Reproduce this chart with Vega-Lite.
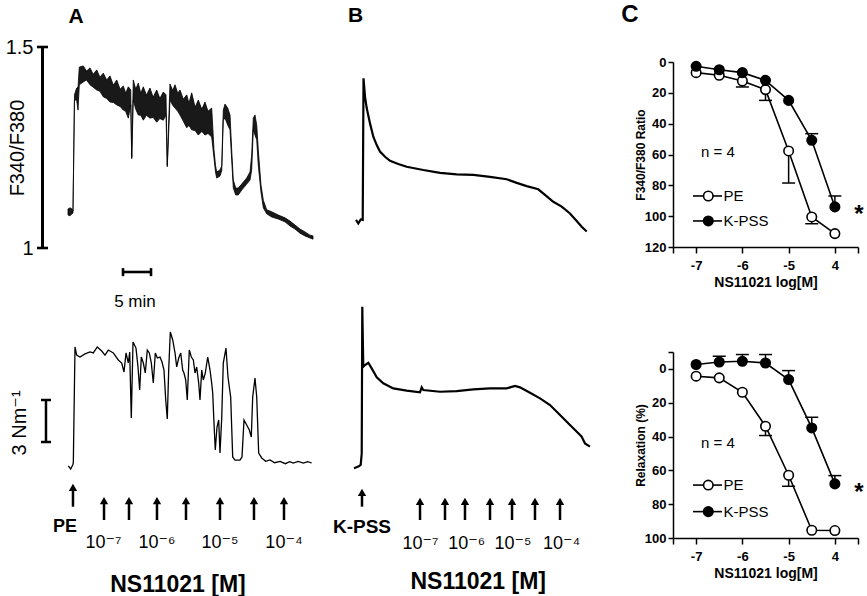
{
"$schema":"https://vega.github.io/schema/vega-lite/v6.json",
"width":867,"height":596,"autosize":{"type":"none"},"padding":0,"background":"white",
"config":{"view":{"stroke":null},"axis":{"grid":false,"domainColor":"black","tickColor":"black","labelColor":"black","titleColor":"black","labelFont":"Liberation Sans","titleFont":"Liberation Sans","labelOverlap":false,"labelFlush":false},"text":{"font":"Liberation Sans, DejaVu Sans, sans-serif","color":"black"}},
"layer":[
 {"data":{"values":[
{"t":0,"lo":1.082,"hi":1.097},{"t":0.36,"lo":1.080,"hi":1.100},{"t":0.71,"lo":1.085,"hi":1.097},{"t":0.89,"lo":1.087,"hi":1.092},{"t":1.16,"lo":1.368,"hi":1.381},{"t":1.55,"lo":1.368,"hi":1.398},{"t":1.79,"lo":1.343,"hi":1.400},{"t":2.02,"lo":1.406,"hi":1.450},{"t":2.73,"lo":1.413,"hi":1.453},{"t":3.3,"lo":1.418,"hi":1.440},{"t":3.93,"lo":1.406,"hi":1.448},{"t":4.5,"lo":1.400,"hi":1.432},{"t":5.13,"lo":1.393,"hi":1.443},{"t":5.7,"lo":1.390,"hi":1.425},{"t":6.30,"lo":1.376,"hi":1.435},{"t":6.9,"lo":1.372,"hi":1.418},{"t":7.50,"lo":1.363,"hi":1.428},{"t":8.1,"lo":1.362,"hi":1.405},{"t":8.70,"lo":1.356,"hi":1.418},{"t":9.3,"lo":1.352,"hi":1.395},{"t":9.88,"lo":1.343,"hi":1.403},{"t":10.3,"lo":1.340,"hi":1.385},{"t":10.77,"lo":1.323,"hi":1.401},{"t":11.20,"lo":1.356,"hi":1.393},{"t":11.38,"lo":1.222,"hi":1.226},{"t":11.66,"lo":1.368,"hi":1.418},{"t":12.1,"lo":1.345,"hi":1.395},{"t":12.55,"lo":1.331,"hi":1.410},{"t":13.0,"lo":1.330,"hi":1.385},{"t":13.45,"lo":1.318,"hi":1.401},{"t":14.0,"lo":1.330,"hi":1.380},{"t":14.64,"lo":1.323,"hi":1.398},{"t":15.2,"lo":1.325,"hi":1.375},{"t":15.84,"lo":1.313,"hi":1.393},{"t":16.4,"lo":1.322,"hi":1.372},{"t":17.02,"lo":1.318,"hi":1.388},{"t":17.50,"lo":1.331,"hi":1.381},{"t":17.73,"lo":1.202,"hi":1.206},{"t":18.21,"lo":1.368,"hi":1.408},{"t":18.7,"lo":1.355,"hi":1.392},{"t":19.11,"lo":1.348,"hi":1.406},{"t":19.6,"lo":1.340,"hi":1.385},{"t":20.0,"lo":1.331,"hi":1.393},{"t":20.6,"lo":1.315,"hi":1.370},{"t":21.20,"lo":1.299,"hi":1.381},{"t":21.6,"lo":1.305,"hi":1.360},{"t":22.09,"lo":1.294,"hi":1.386},{"t":22.7,"lo":1.292,"hi":1.350},{"t":23.27,"lo":1.281,"hi":1.368},{"t":23.9,"lo":1.290,"hi":1.345},{"t":24.46,"lo":1.281,"hi":1.363},{"t":25.0,"lo":1.285,"hi":1.340},{"t":25.66,"lo":1.276,"hi":1.348},{"t":26.07,"lo":1.224,"hi":1.244},{"t":26.34,"lo":1.189,"hi":1.206},{"t":26.55,"lo":1.174,"hi":1.189},{"t":27.14,"lo":1.179,"hi":1.194},{"t":27.45,"lo":1.192,"hi":1.204},{"t":27.73,"lo":1.318,"hi":1.343},{"t":28.04,"lo":1.323,"hi":1.358},{"t":28.52,"lo":1.306,"hi":1.348},{"t":28.93,"lo":1.294,"hi":1.331},{"t":29.23,"lo":1.219,"hi":1.244},{"t":29.52,"lo":1.149,"hi":1.169},{"t":29.95,"lo":1.132,"hi":1.149},{"t":30.41,"lo":1.132,"hi":1.149},{"t":31.02,"lo":1.144,"hi":1.159},{"t":31.91,"lo":1.159,"hi":1.174},{"t":32.50,"lo":1.169,"hi":1.189},{"t":32.80,"lo":1.194,"hi":1.231},{"t":33.09,"lo":1.294,"hi":1.323},{"t":33.39,"lo":1.281,"hi":1.331},{"t":33.70,"lo":1.269,"hi":1.306},{"t":33.98,"lo":1.206,"hi":1.244},{"t":34.46,"lo":1.139,"hi":1.157},{"t":34.88,"lo":1.100,"hi":1.119},{"t":35.48,"lo":1.085,"hi":1.095},{"t":36.38,"lo":1.077,"hi":1.090},{"t":37.55,"lo":1.072,"hi":1.082},{"t":38.75,"lo":1.065,"hi":1.075},{"t":39.64,"lo":1.055,"hi":1.067},{"t":40.54,"lo":1.047,"hi":1.057},{"t":41.43,"lo":1.037,"hi":1.047},{"t":42.32,"lo":1.030,"hi":1.040},{"t":43.21,"lo":1.025,"hi":1.032},{"t":43.75,"lo":1.022,"hi":1.030}
 ]},
  "mark":{"type":"area","color":"black","fillOpacity":0.9,"stroke":"black","strokeWidth":0.8},
  "encoding":{
   "x":{"field":"t","type":"quantitative","scale":{"domain":[0,43.75],"range":[68,313],"zero":false,"nice":false},"axis":null},
   "y":{"field":"hi","type":"quantitative","scale":{"domain":[1,1.5],"range":[248,47],"zero":false,"nice":false},
        "axis":{"orient":"left","offset":-42,"values":[1,1.5],"labelExpr":"datum.value == 1 ? '1' : '1.5'","ticks":false,"labelPadding":9,"labelFontSize":20,"domainWidth":3,"title":"F340/F380","titleFontSize":20,"titleFontWeight":"normal","titleX":-25,"titleY":147.5,"titleAngle":-90,"titleAlign":"center","titleBaseline":"middle"}},
   "y2":{"field":"lo"}}},
 {"data":{"values":[
{"t":-5.54,"t2":-3.57,"F":1.5,"F2":1.5},{"t":-5.54,"t2":-3.57,"F":1,"F2":1},{"t":9.82,"t2":14.82,"F":0.9403,"F2":0.9403},{"t":9.82,"t2":9.82,"F":0.950,"F2":0.930},{"t":14.82,"t2":14.82,"F":0.950,"F2":0.930}
 ]},
  "mark":{"type":"rule","color":"black","strokeWidth":2.6},
  "encoding":{
   "x":{"field":"t","type":"quantitative","scale":{"domain":[0,43.75],"range":[68,313],"zero":false,"nice":false},"axis":null},
   "x2":{"field":"t2"},
   "y":{"field":"F","type":"quantitative","scale":{"domain":[1,1.5],"range":[248,47],"zero":false,"nice":false},"axis":null},
   "y2":{"field":"F2"}}},
 {"data":{"values":[{"t":1.43,"F":1.559,"label":"A"}]},
  "mark":{"type":"text","fontSize":21,"fontWeight":"bold","align":"center","baseline":"alphabetic"},
  "encoding":{
   "x":{"field":"t","type":"quantitative","scale":{"domain":[0,43.75],"range":[68,313],"zero":false,"nice":false},"axis":null},
   "y":{"field":"F","type":"quantitative","scale":{"domain":[1,1.5],"range":[248,47],"zero":false,"nice":false},"axis":null},
   "text":{"field":"label"}}},
 {"data":{"values":[{"t":11.96,"F":0.854,"label":"5 min"}]},
  "mark":{"type":"text","fontSize":17,"align":"center","baseline":"alphabetic"},
  "encoding":{
   "x":{"field":"t","type":"quantitative","scale":{"domain":[0,43.75],"range":[68,313],"zero":false,"nice":false},"axis":null},
   "y":{"field":"F","type":"quantitative","scale":{"domain":[1,1.5],"range":[248,47],"zero":false,"nice":false},"axis":null},
   "text":{"field":"label"}}},
 {"data":{"values":[
{"t":0.05,"v":0.29},{"t":0.48,"v":0.07},{"t":0.84,"v":0.36},{"t":0.95,"v":0.5},{"t":1.25,"v":8.79},{"t":1.55,"v":8.21},{"t":2.14,"v":8.07},{"t":3.04,"v":8.29},{"t":3.93,"v":8.43},{"t":4.52,"v":8.36},{"t":5.23,"v":8.79},{"t":6.02,"v":8.5},{"t":6.61,"v":8.21},{"t":7.20,"v":8.57},{"t":8.09,"v":8.36},{"t":8.98,"v":7.86},{"t":9.59,"v":7.64},{"t":10.0,"v":7.0},{"t":10.36,"v":8.36},{"t":10.77,"v":7.64},{"t":11.02,"v":8.43},{"t":11.30,"v":3.71},{"t":11.61,"v":9.14},{"t":12.14,"v":8.71},{"t":12.5,"v":7.36},{"t":12.80,"v":5.71},{"t":13.09,"v":8.07},{"t":13.45,"v":7.64},{"t":13.80,"v":6.93},{"t":14.16,"v":8.57},{"t":14.52,"v":8.36},{"t":14.88,"v":7.64},{"t":15.23,"v":6.21},{"t":15.59,"v":8.36},{"t":15.95,"v":8.0},{"t":16.43,"v":8.07},{"t":16.79,"v":7.71},{"t":17.14,"v":7.14},{"t":17.45,"v":5.0},{"t":17.73,"v":3.64},{"t":17.98,"v":7.14},{"t":18.27,"v":9.86},{"t":18.70,"v":9.29},{"t":19.11,"v":8.36},{"t":19.41,"v":7.36},{"t":19.77,"v":8.0},{"t":20.13,"v":8.36},{"t":20.48,"v":7.14},{"t":20.71,"v":6.93},{"t":21.02,"v":6.43},{"t":21.30,"v":5.0},{"t":21.66,"v":8.57},{"t":22.02,"v":8.07},{"t":22.38,"v":7.86},{"t":22.68,"v":6.93},{"t":22.98,"v":7.36},{"t":23.34,"v":6.21},{"t":23.57,"v":5.0},{"t":23.88,"v":7.14},{"t":24.16,"v":6.43},{"t":24.52,"v":6.93},{"t":24.95,"v":8.07},{"t":25.36,"v":7.14},{"t":25.66,"v":6.21},{"t":25.84,"v":5.5},{"t":26.07,"v":3.36},{"t":26.30,"v":1.43},{"t":26.61,"v":3.07},{"t":26.91,"v":3.57},{"t":27.14,"v":1.21},{"t":27.45,"v":3.71},{"t":27.73,"v":7.64},{"t":28.21,"v":8.71},{"t":28.57,"v":6.64},{"t":29.05,"v":5.21},{"t":29.41,"v":0.93},{"t":29.82,"v":0.71},{"t":30.71,"v":0.71},{"t":31.07,"v":0.93},{"t":31.43,"v":3.57},{"t":31.91,"v":3.21},{"t":32.38,"v":2.86},{"t":32.73,"v":2.36},{"t":32.98,"v":5.21},{"t":33.39,"v":6.57},{"t":33.70,"v":5.21},{"t":34.05,"v":1.21},{"t":34.59,"v":0.86},{"t":35.3,"v":0.62},{"t":36.07,"v":0.72},{"t":36.9,"v":0.52},{"t":37.86,"v":0.62},{"t":38.8,"v":0.45},{"t":39.6,"v":0.6},{"t":40.23,"v":0.5},{"t":41.1,"v":0.62},{"t":42.02,"v":0.5},{"t":42.8,"v":0.6},{"t":43.52,"v":0.5}
 ]},
  "mark":{"type":"line","color":"black","strokeWidth":1.3},
  "encoding":{
   "x":{"field":"t","type":"quantitative","scale":{"domain":[0,43.75],"range":[68,313],"zero":false,"nice":false},"axis":null},
   "y":{"field":"v","type":"quantitative","scale":{"domain":[0,10],"range":[470,330],"zero":false,"nice":false},"axis":null}}},
 {"data":{"values":[
{"t":-3.93,"t2":-3.93,"v":2,"v2":5},{"t":-4.82,"t2":-3.04,"v":2,"v2":2},{"t":-4.82,"t2":-3.04,"v":5,"v2":5},
{"t":0.89,"t2":0.89,"v":-2.62,"v2":-1.3},
{"t":6.43,"t2":6.43,"v":-3.571,"v2":-2.25},{"t":10.89,"t2":10.89,"v":-3.571,"v2":-2.25},{"t":15.89,"t2":15.89,"v":-3.571,"v2":-2.25},{"t":21.07,"t2":21.07,"v":-3.571,"v2":-2.25},{"t":27.14,"t2":27.14,"v":-3.571,"v2":-2.25},{"t":33.21,"t2":33.21,"v":-3.571,"v2":-2.25},{"t":38.57,"t2":38.57,"v":-3.571,"v2":-2.25}
 ]},
  "mark":{"type":"rule","color":"black","strokeWidth":2.5},
  "encoding":{
   "x":{"field":"t","type":"quantitative","scale":{"domain":[0,43.75],"range":[68,313],"zero":false,"nice":false},"axis":null},
   "x2":{"field":"t2"},
   "y":{"field":"v","type":"quantitative","scale":{"domain":[0,10],"range":[470,330],"zero":false,"nice":false},"axis":null},
   "y2":{"field":"v2"}}},
 {"data":{"values":[
{"t":0.89,"v":-1.236},{"t":6.43,"v":-2.19},{"t":10.89,"v":-2.19},{"t":15.89,"v":-2.19},{"t":21.07,"v":-2.19},{"t":27.14,"v":-2.19},{"t":33.21,"v":-2.19},{"t":38.57,"v":-2.19}
 ]},
  "mark":{"type":"point","shape":"triangle-up","filled":true,"color":"black","size":70,"opacity":1},
  "encoding":{
   "x":{"field":"t","type":"quantitative","scale":{"domain":[0,43.75],"range":[68,313],"zero":false,"nice":false},"axis":null},
   "y":{"field":"v","type":"quantitative","scale":{"domain":[0,10],"range":[470,330],"zero":false,"nice":false},"axis":null}}},
 {"data":{"values":[{"t":-0.54,"v":-4.41,"label":"PE"}]},
  "mark":{"type":"text","fontSize":18,"fontWeight":"bold","align":"center","baseline":"alphabetic"},
  "encoding":{
   "x":{"field":"t","type":"quantitative","scale":{"domain":[0,43.75],"range":[68,313],"zero":false,"nice":false},"axis":null},
   "y":{"field":"v","type":"quantitative","scale":{"domain":[0,10],"range":[470,330],"zero":false,"nice":false},"axis":null},
   "text":{"field":"label"}}},
 {"data":{"values":[{"t":6.34,"v":-5.59,"label":"10⁻⁷"},{"t":15.89,"v":-5.59,"label":"10⁻⁶"},{"t":27.14,"v":-5.59,"label":"10⁻⁵"},{"t":38.57,"v":-5.59,"label":"10⁻⁴"}]},
  "mark":{"type":"text","fontSize":18,"align":"center","baseline":"alphabetic"},
  "encoding":{
   "x":{"field":"t","type":"quantitative","scale":{"domain":[0,43.75],"range":[68,313],"zero":false,"nice":false},"axis":null},
   "y":{"field":"v","type":"quantitative","scale":{"domain":[0,10],"range":[470,330],"zero":false,"nice":false},"axis":null},
   "text":{"field":"label"}}},
 {"data":{"values":[{"t":19.64,"v":-8.69,"label":"NS11021 [M]"}]},
  "mark":{"type":"text","fontSize":23,"fontWeight":"bold","align":"center","baseline":"alphabetic"},
  "encoding":{
   "x":{"field":"t","type":"quantitative","scale":{"domain":[0,43.75],"range":[68,313],"zero":false,"nice":false},"axis":null},
   "y":{"field":"v","type":"quantitative","scale":{"domain":[0,10],"range":[470,330],"zero":false,"nice":false},"axis":null},
   "text":{"field":"label"}}},
 {"data":{"values":[{"t":-8.57,"v":3.36,"label":"3 Nm⁻¹"}]},
  "mark":{"type":"text","fontSize":20,"angle":270,"align":"center","baseline":"middle"},
  "encoding":{
   "x":{"field":"t","type":"quantitative","scale":{"domain":[0,43.75],"range":[68,313],"zero":false,"nice":false},"axis":null},
   "y":{"field":"v","type":"quantitative","scale":{"domain":[0,10],"range":[470,330],"zero":false,"nice":false},"axis":null},
   "text":{"field":"label"}}},
 {"data":{"values":[
{"t":0.18,"F":1.070},{"t":0.59,"F":1.061},{"t":1.02,"F":1.071},{"t":1.38,"F":1.070},{"t":1.52,"F":1.422},{"t":1.79,"F":1.376},{"t":2.09,"F":1.348},{"t":2.68,"F":1.310},{"t":3.27,"F":1.277},{"t":3.88,"F":1.256},{"t":4.46,"F":1.240},{"t":5.36,"F":1.227},{"t":6.25,"F":1.217},{"t":7.73,"F":1.209},{"t":9.23,"F":1.202},{"t":12.2,"F":1.194},{"t":15.18,"F":1.187},{"t":18.16,"F":1.183},{"t":21.13,"F":1.182},{"t":24.11,"F":1.177},{"t":27.09,"F":1.171},{"t":28.88,"F":1.162},{"t":30.66,"F":1.154},{"t":32.73,"F":1.146},{"t":33.93,"F":1.132},{"t":35.41,"F":1.115},{"t":36.91,"F":1.103},{"t":38.39,"F":1.086},{"t":39.59,"F":1.067},{"t":40.48,"F":1.053},{"t":41.38,"F":1.041}
 ]},
  "mark":{"type":"line","color":"black","strokeWidth":2.2},
  "encoding":{
   "x":{"field":"t","type":"quantitative","scale":{"domain":[0,42],"range":[355,590.2],"zero":false,"nice":false},"axis":null},
   "y":{"field":"F","type":"quantitative","scale":{"domain":[1,1.5],"range":[248,47],"zero":false,"nice":false},"axis":null}}},
 {"data":{"values":[{"t":0.09,"F":1.563,"label":"B"}]},
  "mark":{"type":"text","fontSize":21,"fontWeight":"bold","align":"center","baseline":"alphabetic"},
  "encoding":{
   "x":{"field":"t","type":"quantitative","scale":{"domain":[0,42],"range":[355,590.2],"zero":false,"nice":false},"axis":null},
   "y":{"field":"F","type":"quantitative","scale":{"domain":[1,1.5],"range":[248,47],"zero":false,"nice":false},"axis":null},
   "text":{"field":"label"}}},
 {"data":{"values":[
{"t":-0.18,"v":0.12},{"t":0.59,"v":0.24},{"t":1.02,"v":0.36},{"t":1.2,"v":1.19},{"t":1.3,"v":11.66},{"t":1.48,"v":7.38},{"t":1.79,"v":7.5},{"t":2.38,"v":7.66},{"t":2.98,"v":7.26},{"t":3.88,"v":6.62},{"t":5.05,"v":6.19},{"t":6.84,"v":5.83},{"t":9.23,"v":5.67},{"t":11.61,"v":5.55},{"t":11.91,"v":5.90},{"t":12.2,"v":5.71},{"t":15.18,"v":5.59},{"t":18.16,"v":5.64},{"t":21.13,"v":5.76},{"t":24.11,"v":5.83},{"t":27.09,"v":5.83},{"t":28.57,"v":6.0},{"t":29.46,"v":5.9},{"t":31.25,"v":5.52},{"t":33.04,"v":5.12},{"t":34.82,"v":4.64},{"t":36.61,"v":3.93},{"t":38.39,"v":3.21},{"t":39.88,"v":2.62},{"t":40.48,"v":2.38},{"t":41.07,"v":1.90},{"t":41.96,"v":1.67}
 ]},
  "mark":{"type":"line","color":"black","strokeWidth":2.2},
  "encoding":{
   "x":{"field":"t","type":"quantitative","scale":{"domain":[0,42],"range":[355,590.2],"zero":false,"nice":false},"axis":null},
   "y":{"field":"v","type":"quantitative","scale":{"domain":[0,10],"range":[470,330],"zero":false,"nice":false},"axis":null}}},
 {"data":{"values":[
{"t":1.25,"t2":1.25,"v":-2.62,"v2":-1.65},
{"t":11.61,"t2":11.61,"v":-3.571,"v2":-2.28},{"t":16.07,"t2":16.07,"v":-3.571,"v2":-2.28},{"t":19.64,"t2":19.64,"v":-3.571,"v2":-2.28},{"t":24.11,"t2":24.11,"v":-3.571,"v2":-2.28},{"t":28.04,"t2":28.04,"v":-3.571,"v2":-2.28},{"t":32.14,"t2":32.14,"v":-3.571,"v2":-2.28},{"t":36.61,"t2":36.61,"v":-3.571,"v2":-2.28}
 ]},
  "mark":{"type":"rule","color":"black","strokeWidth":2.5},
  "encoding":{
   "x":{"field":"t","type":"quantitative","scale":{"domain":[0,42],"range":[355,590.2],"zero":false,"nice":false},"axis":null},
   "x2":{"field":"t2"},
   "y":{"field":"v","type":"quantitative","scale":{"domain":[0,10],"range":[470,330],"zero":false,"nice":false},"axis":null},
   "y2":{"field":"v2"}}},
 {"data":{"values":[
{"t":1.25,"v":-1.59},{"t":11.61,"v":-2.24},{"t":16.07,"v":-2.24},{"t":19.64,"v":-2.24},{"t":24.11,"v":-2.24},{"t":28.04,"v":-2.24},{"t":32.14,"v":-2.24},{"t":36.61,"v":-2.24}
 ]},
  "mark":{"type":"point","shape":"triangle-up","filled":true,"color":"black","size":70,"opacity":1},
  "encoding":{
   "x":{"field":"t","type":"quantitative","scale":{"domain":[0,42],"range":[355,590.2],"zero":false,"nice":false},"axis":null},
   "y":{"field":"v","type":"quantitative","scale":{"domain":[0,10],"range":[470,330],"zero":false,"nice":false},"axis":null}}},
 {"data":{"values":[{"t":1.25,"v":-4.52,"label":"K-PSS"}]},
  "mark":{"type":"text","fontSize":19,"fontWeight":"bold","align":"center","baseline":"alphabetic"},
  "encoding":{
   "x":{"field":"t","type":"quantitative","scale":{"domain":[0,42],"range":[355,590.2],"zero":false,"nice":false},"axis":null},
   "y":{"field":"v","type":"quantitative","scale":{"domain":[0,10],"range":[470,330],"zero":false,"nice":false},"axis":null},
   "text":{"field":"label"}}},
 {"data":{"values":[{"t":11.7,"v":-5.66,"label":"10⁻⁷"},{"t":19.94,"v":-5.66,"label":"10⁻⁶"},{"t":28.2,"v":-5.66,"label":"10⁻⁵"},{"t":36.9,"v":-5.66,"label":"10⁻⁴"}]},
  "mark":{"type":"text","fontSize":18,"align":"center","baseline":"alphabetic"},
  "encoding":{
   "x":{"field":"t","type":"quantitative","scale":{"domain":[0,42],"range":[355,590.2],"zero":false,"nice":false},"axis":null},
   "y":{"field":"v","type":"quantitative","scale":{"domain":[0,10],"range":[470,330],"zero":false,"nice":false},"axis":null},
   "text":{"field":"label"}}},
 {"data":{"values":[{"t":22.0,"v":-8.52,"label":"NS11021 [M]"}]},
  "mark":{"type":"text","fontSize":23,"fontWeight":"bold","align":"center","baseline":"alphabetic"},
  "encoding":{
   "x":{"field":"t","type":"quantitative","scale":{"domain":[0,42],"range":[355,590.2],"zero":false,"nice":false},"axis":null},
   "y":{"field":"v","type":"quantitative","scale":{"domain":[0,10],"range":[470,330],"zero":false,"nice":false},"axis":null},
   "text":{"field":"label"}}},
 {"data":{"values":[
{"grp":"PE","logM":-7,"val":6.9},{"grp":"PE","logM":-6.5,"val":8.6},{"grp":"PE","logM":-6,"val":12.3},{"grp":"PE","logM":-5.5,"val":17.9},{"grp":"PE","logM":-5,"val":57.7},{"grp":"PE","logM":-4.5,"val":100.5},{"grp":"PE","logM":-4,"val":111.3},
{"grp":"K-PSS","logM":-7,"val":2.8},{"grp":"K-PSS","logM":-6.5,"val":5.0},{"grp":"K-PSS","logM":-6,"val":6.9},{"grp":"K-PSS","logM":-5.5,"val":11.9},{"grp":"K-PSS","logM":-5,"val":24.9},{"grp":"K-PSS","logM":-4.5,"val":50.8},{"grp":"K-PSS","logM":-4,"val":94}
 ]},
  "mark":{"type":"line","color":"black","strokeWidth":1.6},
  "encoding":{
   "x":{"field":"logM","type":"quantitative","scale":{"domain":[-7.5,-3.5],"range":[673,858],"zero":false,"nice":false},
        "axis":{"orient":"bottom","offset":-349,"values":[-7.5,-7,-6,-5,-4,-3.5],"labelExpr":"datum.value == -4 ? '4' : datum.value == -7 ? '-7' : datum.value == -6 ? '-6' : datum.value == -5 ? '-5' : ''","title":"NS11021 log[M]","titleFontSize":14,"titleFontWeight":"bold","titlePadding":3,"labelFontSize":13,"labelFontWeight":"bold","tickSize":6,"tickWidth":1.5,"domainWidth":1.5,"labelPadding":6}},
   "y":{"field":"val","type":"quantitative","scale":{"domain":[0,120],"range":[62,247],"zero":false,"nice":false},
        "axis":{"orient":"left","offset":-673,"values":[0,20,40,60,80,100,120],"labelExpr":"format(datum.value, 'd')","title":"F340/F380 Ratio","titleX":-33,"titleY":154.5,"titleAngle":-90,"titleAlign":"center","titleBaseline":"middle","titleFontSize":12,"titleFontWeight":"bold","labelFontSize":13,"labelFontWeight":"bold","tickSize":5,"tickWidth":1.5,"domainWidth":1.5,"labelPadding":2}},
   "detail":{"field":"grp"}}},
 {"data":{"values":[
{"grp":"PE","logM":-6,"val":12.3,"err":16.2},{"grp":"PE","logM":-5.5,"val":17.9,"err":24.9},{"grp":"PE","logM":-5,"val":57.7,"err":78.5},{"grp":"PE","logM":-4.5,"val":100.5,"err":104.9},{"grp":"K-PSS","logM":-4.5,"val":50.8,"err":46.5},{"grp":"K-PSS","logM":-4,"val":94,"err":86.9}
 ]},
  "mark":{"type":"rule","color":"black","strokeWidth":1.5},
  "encoding":{
   "x":{"field":"logM","type":"quantitative","scale":{"domain":[-7.5,-3.5],"range":[673,858],"zero":false,"nice":false},"axis":null},
   "y":{"field":"val","type":"quantitative","scale":{"domain":[0,120],"range":[62,247],"zero":false,"nice":false},"axis":null},
   "y2":{"field":"err"}}},
 {"data":{"values":[
{"grp":"PE","logM":-6,"err":16.2},{"grp":"PE","logM":-5.5,"err":24.9},{"grp":"PE","logM":-5,"err":78.5},{"grp":"PE","logM":-4.5,"err":104.9},{"grp":"K-PSS","logM":-4.5,"err":46.5},{"grp":"K-PSS","logM":-4,"err":86.9}
 ]},
  "mark":{"type":"tick","orient":"horizontal","color":"black","size":13,"thickness":1.5,"opacity":1},
  "encoding":{
   "x":{"field":"logM","type":"quantitative","scale":{"domain":[-7.5,-3.5],"range":[673,858],"zero":false,"nice":false},"axis":null},
   "y":{"field":"err","type":"quantitative","scale":{"domain":[0,120],"range":[62,247],"zero":false,"nice":false},"axis":null}}},
 {"data":{"values":[{"logM":-7.068,"logM2":-6.44,"val":86.9},{"logM":-7.068,"logM2":-6.44,"val":103.1}]},
  "mark":{"type":"rule","color":"black","strokeWidth":1.6},
  "encoding":{
   "x":{"field":"logM","type":"quantitative","scale":{"domain":[-7.5,-3.5],"range":[673,858],"zero":false,"nice":false},"axis":null},
   "x2":{"field":"logM2"},
   "y":{"field":"val","type":"quantitative","scale":{"domain":[0,120],"range":[62,247],"zero":false,"nice":false},"axis":null}}},
 {"data":{"values":[
{"grp":"PE","logM":-7,"val":6.9},{"grp":"PE","logM":-6.5,"val":8.6},{"grp":"PE","logM":-6,"val":12.3},{"grp":"PE","logM":-5.5,"val":17.9},{"grp":"PE","logM":-5,"val":57.7},{"grp":"PE","logM":-4.5,"val":100.5},{"grp":"PE","logM":-4,"val":111.3},
{"grp":"K-PSS","logM":-7,"val":2.8},{"grp":"K-PSS","logM":-6.5,"val":5.0},{"grp":"K-PSS","logM":-6,"val":6.9},{"grp":"K-PSS","logM":-5.5,"val":11.9},{"grp":"K-PSS","logM":-5,"val":24.9},{"grp":"K-PSS","logM":-4.5,"val":50.8},{"grp":"K-PSS","logM":-4,"val":94},
{"grp":"PE","logM":-6.737,"val":86.9},{"grp":"K-PSS","logM":-6.737,"val":103.1}
 ]},
  "mark":{"type":"point","shape":"circle","filled":true,"size":90,"stroke":"black","strokeWidth":1.6,"opacity":1},
  "encoding":{
   "x":{"field":"logM","type":"quantitative","scale":{"domain":[-7.5,-3.5],"range":[673,858],"zero":false,"nice":false},"axis":null},
   "y":{"field":"val","type":"quantitative","scale":{"domain":[0,120],"range":[62,247],"zero":false,"nice":false},"axis":null},
   "fill":{"field":"grp","type":"nominal","scale":{"domain":["PE","K-PSS"],"range":["white","black"]},"legend":null}}},
 {"data":{"values":[{"logM":-6.43,"val":86.9,"label":"PE"},{"logM":-6.43,"val":103.1,"label":"K-PSS"}]},
  "mark":{"type":"text","fontSize":15,"align":"left","baseline":"middle","dx":1},
  "encoding":{
   "x":{"field":"logM","type":"quantitative","scale":{"domain":[-7.5,-3.5],"range":[673,858],"zero":false,"nice":false},"axis":null},
   "y":{"field":"val","type":"quantitative","scale":{"domain":[0,120],"range":[62,247],"zero":false,"nice":false},"axis":null},
   "text":{"field":"label"}}},
 {"data":{"values":[{"logM":-6.527,"val":58.2,"label":"n = 4"}]},
  "mark":{"type":"text","fontSize":15,"align":"center","baseline":"middle"},
  "encoding":{
   "x":{"field":"logM","type":"quantitative","scale":{"domain":[-7.5,-3.5],"range":[673,858],"zero":false,"nice":false},"axis":null},
   "y":{"field":"val","type":"quantitative","scale":{"domain":[0,120],"range":[62,247],"zero":false,"nice":false},"axis":null},
   "text":{"field":"label"}}},
 {"data":{"values":[{"logM":-3.48,"val":103.5,"label":"*"},{"logM":-8.43,"val":-26.1,"label":"C"}]},
  "mark":{"type":"text","fontSize":24,"fontWeight":"bold","align":"center","baseline":"alphabetic"},
  "encoding":{
   "x":{"field":"logM","type":"quantitative","scale":{"domain":[-7.5,-3.5],"range":[673,858],"zero":false,"nice":false},"axis":null},
   "y":{"field":"val","type":"quantitative","scale":{"domain":[0,120],"range":[62,247],"zero":false,"nice":false},"axis":null},
   "text":{"field":"label"}}},
 {"data":{"values":[
{"grp":"PE","logM":-7,"val":4.3},{"grp":"PE","logM":-6.5,"val":5.3},{"grp":"PE","logM":-6,"val":13.8},{"grp":"PE","logM":-5.5,"val":33.9},{"grp":"PE","logM":-5,"val":62.9},{"grp":"PE","logM":-4.5,"val":95.4},{"grp":"PE","logM":-4,"val":95.6},
{"grp":"K-PSS","logM":-7,"val":-2.6},{"grp":"K-PSS","logM":-6.5,"val":-4.1},{"grp":"K-PSS","logM":-6,"val":-4.5},{"grp":"K-PSS","logM":-5.5,"val":-3.5},{"grp":"K-PSS","logM":-5,"val":6.3},{"grp":"K-PSS","logM":-4.5,"val":34.9},{"grp":"K-PSS","logM":-4,"val":68}
 ]},
  "mark":{"type":"line","color":"black","strokeWidth":1.6},
  "encoding":{
   "x":{"field":"logM","type":"quantitative","scale":{"domain":[-7.5,-3.5],"range":[673,858],"zero":false,"nice":false},
        "axis":{"orient":"bottom","offset":-58,"values":[-7.5,-7,-6,-5,-4,-3.5],"labelExpr":"datum.value == -4 ? '4' : datum.value == -7 ? '-7' : datum.value == -6 ? '-6' : datum.value == -5 ? '-5' : ''","title":"NS11021 log[M]","titleFontSize":14,"titleFontWeight":"bold","titlePadding":3,"labelFontSize":13,"labelFontWeight":"bold","tickSize":6,"tickWidth":1.5,"domainWidth":1.5,"labelPadding":6}},
   "y":{"field":"val","type":"quantitative","scale":{"domain":[-10,100],"range":[352,538],"zero":false,"nice":false},
        "axis":{"orient":"left","offset":-673,"values":[-10,0,20,40,60,80,100],"labelExpr":"datum.value == -10 ? '' : format(datum.value, 'd')","title":"Relaxation (%)","titleX":-33,"titleY":445,"titleAngle":-90,"titleAlign":"center","titleBaseline":"middle","titleFontSize":12,"titleFontWeight":"bold","labelFontSize":13,"labelFontWeight":"bold","tickSize":5,"tickWidth":1.5,"domainWidth":1.5,"labelPadding":2}},
   "detail":{"field":"grp"}}},
 {"data":{"values":[
{"grp":"PE","logM":-5.5,"val":33.9,"err":39.4},{"grp":"PE","logM":-5,"val":62.9,"err":69.4},{"grp":"K-PSS","logM":-6.5,"val":-4.1,"err":-7.5},{"grp":"K-PSS","logM":-6,"val":-4.5,"err":-8.5},{"grp":"K-PSS","logM":-5.5,"val":-3.5,"err":-8.5},{"grp":"K-PSS","logM":-5,"val":6.3,"err":1.0},{"grp":"K-PSS","logM":-4.5,"val":34.9,"err":28.6},{"grp":"K-PSS","logM":-4,"val":68,"err":63.1}
 ]},
  "mark":{"type":"rule","color":"black","strokeWidth":1.5},
  "encoding":{
   "x":{"field":"logM","type":"quantitative","scale":{"domain":[-7.5,-3.5],"range":[673,858],"zero":false,"nice":false},"axis":null},
   "y":{"field":"val","type":"quantitative","scale":{"domain":[-10,100],"range":[352,538],"zero":false,"nice":false},"axis":null},
   "y2":{"field":"err"}}},
 {"data":{"values":[
{"grp":"PE","logM":-5.5,"err":39.4},{"grp":"PE","logM":-5,"err":69.4},{"grp":"K-PSS","logM":-6.5,"err":-7.5},{"grp":"K-PSS","logM":-6,"err":-8.5},{"grp":"K-PSS","logM":-5.5,"err":-8.5},{"grp":"K-PSS","logM":-5,"err":1.0},{"grp":"K-PSS","logM":-4.5,"err":28.6},{"grp":"K-PSS","logM":-4,"err":63.1}
 ]},
  "mark":{"type":"tick","orient":"horizontal","color":"black","size":13,"thickness":1.5,"opacity":1},
  "encoding":{
   "x":{"field":"logM","type":"quantitative","scale":{"domain":[-7.5,-3.5],"range":[673,858],"zero":false,"nice":false},"axis":null},
   "y":{"field":"err","type":"quantitative","scale":{"domain":[-10,100],"range":[352,538],"zero":false,"nice":false},"axis":null}}},
 {"data":{"values":[{"logM":-7.068,"logM2":-6.44,"val":68.7},{"logM":-7.068,"logM2":-6.44,"val":84.4}]},
  "mark":{"type":"rule","color":"black","strokeWidth":1.6},
  "encoding":{
   "x":{"field":"logM","type":"quantitative","scale":{"domain":[-7.5,-3.5],"range":[673,858],"zero":false,"nice":false},"axis":null},
   "x2":{"field":"logM2"},
   "y":{"field":"val","type":"quantitative","scale":{"domain":[-10,100],"range":[352,538],"zero":false,"nice":false},"axis":null}}},
 {"data":{"values":[
{"grp":"PE","logM":-7,"val":4.3},{"grp":"PE","logM":-6.5,"val":5.3},{"grp":"PE","logM":-6,"val":13.8},{"grp":"PE","logM":-5.5,"val":33.9},{"grp":"PE","logM":-5,"val":62.9},{"grp":"PE","logM":-4.5,"val":95.4},{"grp":"PE","logM":-4,"val":95.6},
{"grp":"K-PSS","logM":-7,"val":-2.6},{"grp":"K-PSS","logM":-6.5,"val":-4.1},{"grp":"K-PSS","logM":-6,"val":-4.5},{"grp":"K-PSS","logM":-5.5,"val":-3.5},{"grp":"K-PSS","logM":-5,"val":6.3},{"grp":"K-PSS","logM":-4.5,"val":34.9},{"grp":"K-PSS","logM":-4,"val":68},
{"grp":"PE","logM":-6.737,"val":68.7},{"grp":"K-PSS","logM":-6.737,"val":84.4}
 ]},
  "mark":{"type":"point","shape":"circle","filled":true,"size":90,"stroke":"black","strokeWidth":1.6,"opacity":1},
  "encoding":{
   "x":{"field":"logM","type":"quantitative","scale":{"domain":[-7.5,-3.5],"range":[673,858],"zero":false,"nice":false},"axis":null},
   "y":{"field":"val","type":"quantitative","scale":{"domain":[-10,100],"range":[352,538],"zero":false,"nice":false},"axis":null},
   "fill":{"field":"grp","type":"nominal","scale":{"domain":["PE","K-PSS"],"range":["white","black"]},"legend":null}}},
 {"data":{"values":[{"logM":-6.43,"val":68.7,"label":"PE"},{"logM":-6.43,"val":84.4,"label":"K-PSS"}]},
  "mark":{"type":"text","fontSize":15,"align":"left","baseline":"middle","dx":1},
  "encoding":{
   "x":{"field":"logM","type":"quantitative","scale":{"domain":[-7.5,-3.5],"range":[673,858],"zero":false,"nice":false},"axis":null},
   "y":{"field":"val","type":"quantitative","scale":{"domain":[-10,100],"range":[352,538],"zero":false,"nice":false},"axis":null},
   "text":{"field":"label"}}},
 {"data":{"values":[{"logM":-6.527,"val":44.0,"label":"n = 4"}]},
  "mark":{"type":"text","fontSize":15,"align":"center","baseline":"middle"},
  "encoding":{
   "x":{"field":"logM","type":"quantitative","scale":{"domain":[-7.5,-3.5],"range":[673,858],"zero":false,"nice":false},"axis":null},
   "y":{"field":"val","type":"quantitative","scale":{"domain":[-10,100],"range":[352,538],"zero":false,"nice":false},"axis":null},
   "text":{"field":"label"}}},
 {"data":{"values":[{"logM":-3.48,"val":77.3,"label":"*"}]},
  "mark":{"type":"text","fontSize":24,"fontWeight":"bold","align":"center","baseline":"alphabetic"},
  "encoding":{
   "x":{"field":"logM","type":"quantitative","scale":{"domain":[-7.5,-3.5],"range":[673,858],"zero":false,"nice":false},"axis":null},
   "y":{"field":"val","type":"quantitative","scale":{"domain":[-10,100],"range":[352,538],"zero":false,"nice":false},"axis":null},
   "text":{"field":"label"}}}
],
"resolve":{"scale":{"x":"independent","y":"independent"},"axis":{"x":"independent","y":"independent"}}
}
